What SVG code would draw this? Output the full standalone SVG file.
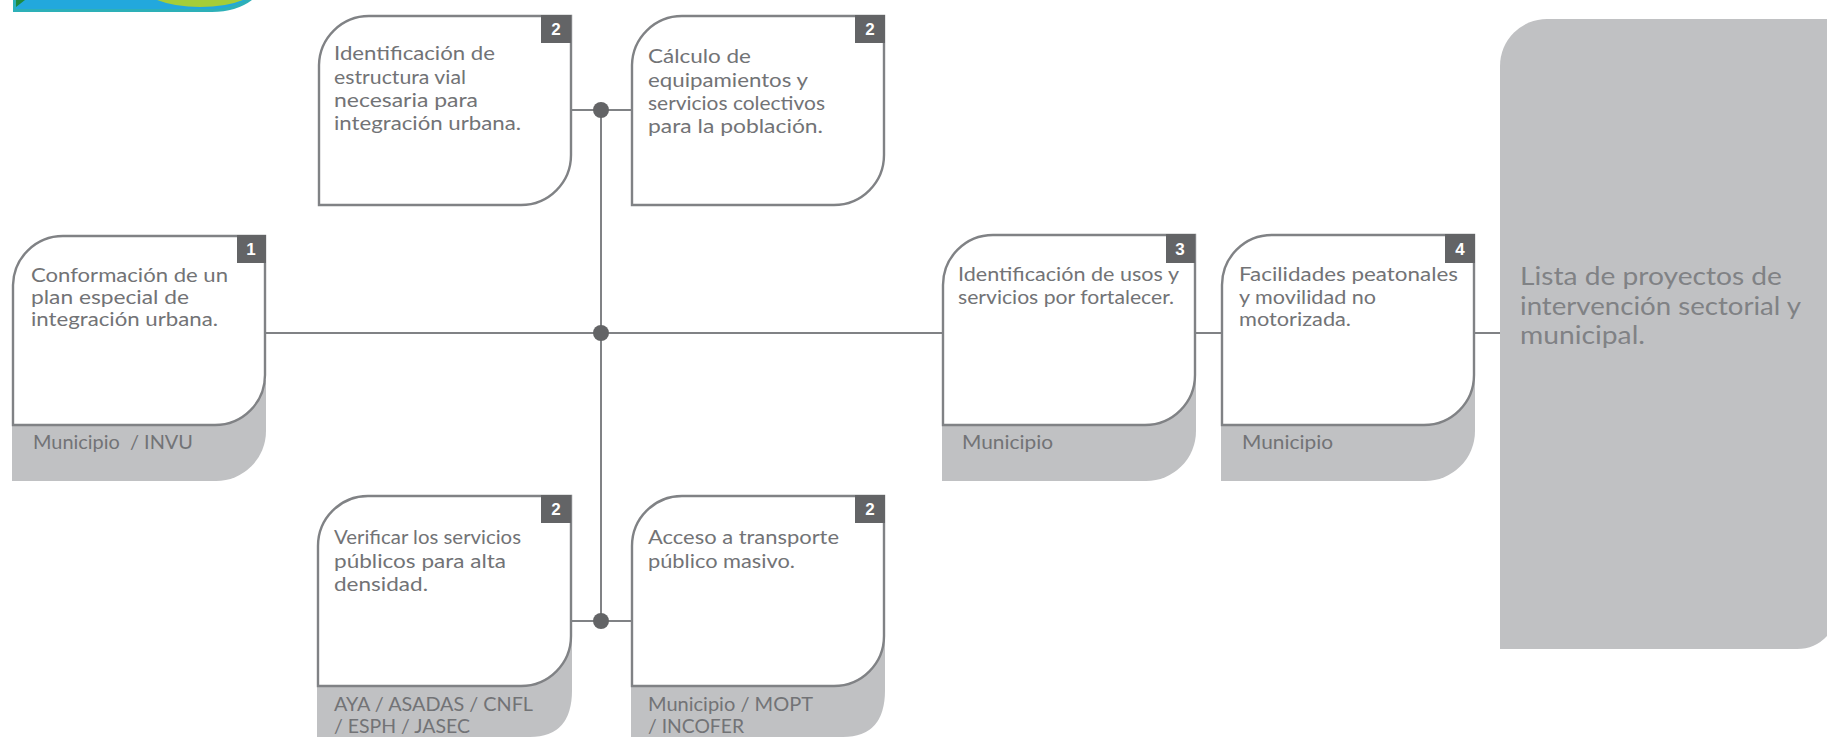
<svg xmlns="http://www.w3.org/2000/svg" width="1827" height="737" viewBox="0 0 1827 737">
<style>
.t{font-family:"Lato","Liberation Sans",sans-serif;font-size:18.5px;fill:#727376}
.b{font-family:"Lato","Liberation Sans",sans-serif;font-size:25px;fill:#808285}
.n{font-family:"Liberation Sans",sans-serif;font-size:17px;font-weight:bold;fill:#fff;text-anchor:middle}
.card{fill:#fff;stroke:#808285;stroke-width:2.4}
.sh{fill:#c0c1c3}
.tag{fill:#636466}
.l{stroke:#808285;stroke-width:2;fill:none}
.d{fill:#636466}
</style>
<rect width="1827" height="737" fill="#fff"/>
<g id="logo">
<path d="M13 0V12H212Q236 12 252 0Z" fill="#2db0b8"/>
<path d="M16 0V9H212Q228 9 246 0Z" fill="#22a8dd"/>
<path d="M157 0Q175 7 200 7Q226 7 243 0Z" fill="#a5cd39"/>
<path d="M16 0V7L25 0Z" fill="#1f8a3e"/>
</g>
<g id="connectors">
<path class="l" d="M266 333H942M1195 333H1222M1475 333H1500M601 110V621M571 110H631M572 621H631"/>
<circle class="d" cx="601" cy="110" r="8"/>
<circle class="d" cx="601" cy="333" r="8"/>
<circle class="d" cx="601" cy="621" r="8"/>
</g>
<g id="node-1">
<path class="sh" d="M12 424V481H216A50 50 0 0 0 266 431V380Z"/>
<path class="card" d="M13 425V285A50 50 0 0 1 63 236H265V375A50 50 0 0 1 215 425Z"/>
<rect class="tag" x="237" y="235" width="29" height="28"/>
<text class="n" x="251" y="255">1</text>
<text class="t" x="31" y="282" textLength="197" lengthAdjust="spacingAndGlyphs">Conformación de un</text>
<text class="t" x="31" y="304" textLength="158" lengthAdjust="spacingAndGlyphs">plan especial de</text>
<text class="t" x="31" y="326" textLength="187" lengthAdjust="spacingAndGlyphs">integración urbana.</text>
<text class="t" x="33" y="449" textLength="160" lengthAdjust="spacingAndGlyphs" xml:space="preserve">Municipio  / INVU</text>
</g>
<g id="node-2a">
<path class="card" d="M319 205V65A50 50 0 0 1 369 16H571V155A50 50 0 0 1 521 205Z"/>
<rect class="tag" x="541" y="15" width="30" height="28"/>
<text class="n" x="556" y="35">2</text>
<text class="t" x="334" y="60" textLength="161" lengthAdjust="spacingAndGlyphs">Identificación de</text>
<text class="t" x="334" y="84" textLength="132" lengthAdjust="spacingAndGlyphs">estructura vial</text>
<text class="t" x="334" y="107" textLength="144" lengthAdjust="spacingAndGlyphs">necesaria para</text>
<text class="t" x="334" y="130" textLength="187" lengthAdjust="spacingAndGlyphs">integración urbana.</text>
</g>
<g id="node-2b">
<path class="card" d="M632 205V65A50 50 0 0 1 682 16H884V155A50 50 0 0 1 834 205Z"/>
<rect class="tag" x="855" y="15" width="30" height="28"/>
<text class="n" x="870" y="35">2</text>
<text class="t" x="648" y="63" textLength="103" lengthAdjust="spacingAndGlyphs">Cálculo de</text>
<text class="t" x="648" y="87" textLength="160" lengthAdjust="spacingAndGlyphs">equipamientos y</text>
<text class="t" x="648" y="110" textLength="177" lengthAdjust="spacingAndGlyphs">servicios colectivos</text>
<text class="t" x="648" y="133" textLength="175" lengthAdjust="spacingAndGlyphs">para la población.</text>
</g>
<g id="node-2c">
<path class="sh" d="M317 685V737H530Q572 737 572 690V640Z"/>
<path class="card" d="M318 686V546A50 50 0 0 1 368 496H571V636A50 50 0 0 1 521 686Z"/>
<rect class="tag" x="541" y="495" width="30" height="28"/>
<text class="n" x="556" y="515">2</text>
<text class="t" x="334" y="544" textLength="187" lengthAdjust="spacingAndGlyphs">Verificar los servicios</text>
<text class="t" x="334" y="568" textLength="172" lengthAdjust="spacingAndGlyphs">públicos para alta</text>
<text class="t" x="334" y="591" textLength="94" lengthAdjust="spacingAndGlyphs">densidad.</text>
<text class="t" x="334" y="711" textLength="199" lengthAdjust="spacingAndGlyphs">AYA / ASADAS / CNFL</text>
<text class="t" x="334" y="733" textLength="136" lengthAdjust="spacingAndGlyphs">/ ESPH / JASEC</text>
</g>
<g id="node-2d">
<path class="sh" d="M631 685V737H843Q885 737 885 690V640Z"/>
<path class="card" d="M632 686V546A50 50 0 0 1 682 496H884V636A50 50 0 0 1 834 686Z"/>
<rect class="tag" x="855" y="495" width="30" height="28"/>
<text class="n" x="870" y="515">2</text>
<text class="t" x="648" y="544" textLength="191" lengthAdjust="spacingAndGlyphs">Acceso a transporte</text>
<text class="t" x="648" y="568" textLength="147" lengthAdjust="spacingAndGlyphs">público masivo.</text>
<text class="t" x="648" y="711" textLength="165" lengthAdjust="spacingAndGlyphs">Municipio / MOPT</text>
<text class="t" x="648" y="733" textLength="96" lengthAdjust="spacingAndGlyphs">/ INCOFER</text>
</g>
<g id="node-3">
<path class="sh" d="M942 424V481H1146A50 50 0 0 0 1196 431V380Z"/>
<path class="card" d="M943 425V285A50 50 0 0 1 993 235H1195V375A50 50 0 0 1 1145 425Z"/>
<rect class="tag" x="1166" y="234" width="29" height="29"/>
<text class="n" x="1180" y="255">3</text>
<text class="t" x="958" y="281" textLength="221" lengthAdjust="spacingAndGlyphs">Identificación de usos y</text>
<text class="t" x="958" y="304" textLength="216" lengthAdjust="spacingAndGlyphs">servicios por fortalecer.</text>
<text class="t" x="962" y="449" textLength="91" lengthAdjust="spacingAndGlyphs">Municipio</text>
</g>
<g id="node-4">
<path class="sh" d="M1221 424V481H1425A50 50 0 0 0 1475 431V380Z"/>
<path class="card" d="M1222 425V285A50 50 0 0 1 1272 235H1474V375A50 50 0 0 1 1424 425Z"/>
<rect class="tag" x="1445" y="234" width="30" height="29"/>
<text class="n" x="1460" y="255">4</text>
<text class="t" x="1239" y="281" textLength="219" lengthAdjust="spacingAndGlyphs">Facilidades peatonales</text>
<text class="t" x="1239" y="304" textLength="137" lengthAdjust="spacingAndGlyphs">y movilidad no</text>
<text class="t" x="1239" y="326" textLength="112" lengthAdjust="spacingAndGlyphs">motorizada.</text>
<text class="t" x="1242" y="449" textLength="91" lengthAdjust="spacingAndGlyphs">Municipio</text>
</g>
<g id="node-result">
<path class="sh" d="M1500 649V66A47 47 0 0 1 1547 19H1827V636Q1815 649 1797 649Z"/>
<text class="b" x="1520" y="285" textLength="262" lengthAdjust="spacingAndGlyphs">Lista de proyectos de</text>
<text class="b" x="1520" y="315" textLength="281" lengthAdjust="spacingAndGlyphs">intervención sectorial y</text>
<text class="b" x="1520" y="344" textLength="125" lengthAdjust="spacingAndGlyphs">municipal.</text>
</g>
</svg>
